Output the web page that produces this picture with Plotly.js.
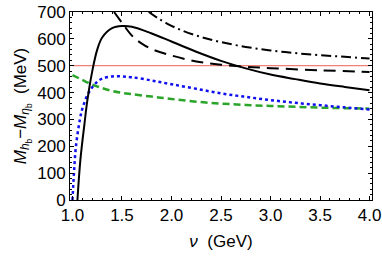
<!DOCTYPE html>
<html><head><meta charset="utf-8">
<script src="https://cdn.plot.ly/plotly-3.0.1.min.js"></script>
<style>html,body{margin:0;padding:0;background:#fff}#c{width:382px;height:256px}</style>
</head><body><div id="c"></div>
<script>
var solidX = [1.05,1.08,1.12,1.15,1.2,1.25,1.3,1.4,1.5,1.6,1.8,2.0,2.25,2.5,2.75,3.0,3.25,3.5,3.75,4.0];
var solidY = [0,150,280,370,480,560,605,640,648,645,620,590,552,518,490,467,450,434,421,409];
var dashX = [1.42,1.5,1.6,1.7,1.8,2.0,2.25,2.5,2.75,3.0,3.5,4.0];
var dashY = [700,660,612,582,562,538,516,504,496,491,483,477];
var dashDotX = [1.77,1.85,1.95,2.1,2.3,2.5,2.75,3.0,3.25,3.5,3.75,4.0];
var dashDotY = [700,680,658,632,607,588,570,557,547,539,533,527];
var blueX = [1.0,1.015,1.035,1.075,1.1,1.15,1.2,1.25,1.3,1.4,1.5,1.6,1.8,2.0,2.25,2.5,2.75,3.0,3.25,3.5,3.75,4.0];
var blueY = [0,100,200,300,340,390,420,440,452,460,460,457,445,431,414,397,384,372,362,353,345,337];
var greenX = [1.0,1.1,1.2,1.3,1.4,1.5,1.6,1.8,2.0,2.25,2.5,2.75,3.0,3.25,3.5,3.75,4.0];
var greenY = [465,447,430,417,406,399,394,385,376,366,359,354,350,347,344,342,340];
var refX = [1.0,4.0];
var refY = [500,500];

var traces = [
  {x: refX, y: refY, mode:'lines', line:{color:'#e8605a', width:1}},
  {x: greenX, y: greenY, mode:'lines', line:{color:'#2aa52a', width:2.5, dash:'7px,4px', shape:'spline'}},
  {x: blueX, y: blueY, mode:'lines', line:{color:'#1010ee', width:2.5, dash:'dot', shape:'spline'}},
  {x: dashDotX, y: dashDotY, mode:'lines', line:{color:'#000', width:2, dash:'10px,4px,2px,4px', shape:'spline'}},
  {x: dashX, y: dashY, mode:'lines', line:{color:'#000', width:2, dash:'12px,7px', shape:'spline'}},
  {x: solidX, y: solidY, mode:'lines', line:{color:'#000', width:2, shape:'spline', smoothing:1}}
];
var font = {family:'Liberation Sans, Arial, sans-serif', size:17, color:'#000'};
var layout = {
  width:382, height:256, showlegend:false,
  margin:{l:70, r:10, t:12, b:56},
  paper_bgcolor:'#fff', plot_bgcolor:'#fff',
  font: font,
  xaxis:{range:[0.975,4.025], tickvals:[1,1.5,2,2.5,3,3.5,4], ticktext:['1.0','1.5','2.0','2.5','3.0','3.5','4.0'],
    ticks:'inside', ticklen:4, tickwidth:1, tickcolor:'#000', showline:true, linecolor:'#000', linewidth:1, mirror:'allticks',
    showgrid:false, zeroline:false, tickfont:font,
    minor:{dtick:0.1, tick0:0, ticks:'inside', ticklen:2, tickcolor:'#000', showgrid:false},
    title:{text:'<i>ν</i>  (GeV)', font:font, standoff:10}},
  yaxis:{range:[0,700], tickvals:[0,100,200,300,400,500,600,700],
    ticks:'inside', ticklen:4, tickwidth:1, tickcolor:'#000', showline:true, linecolor:'#000', linewidth:1, mirror:'allticks',
    showgrid:false, zeroline:false, tickfont:font,
    minor:{dtick:20, tick0:0, ticks:'inside', ticklen:2, tickcolor:'#000', showgrid:false},
    title:{text:'<i>M</i><sub><i>h</i><sub>b</sub></sub>−<i>M</i><sub><i>η</i><sub>b</sub></sub>  (MeV)', font:font, standoff:6}}
};
Plotly.newPlot('c', traces, layout, {staticPlot:true, displayModeBar:false});
</script></body></html>
